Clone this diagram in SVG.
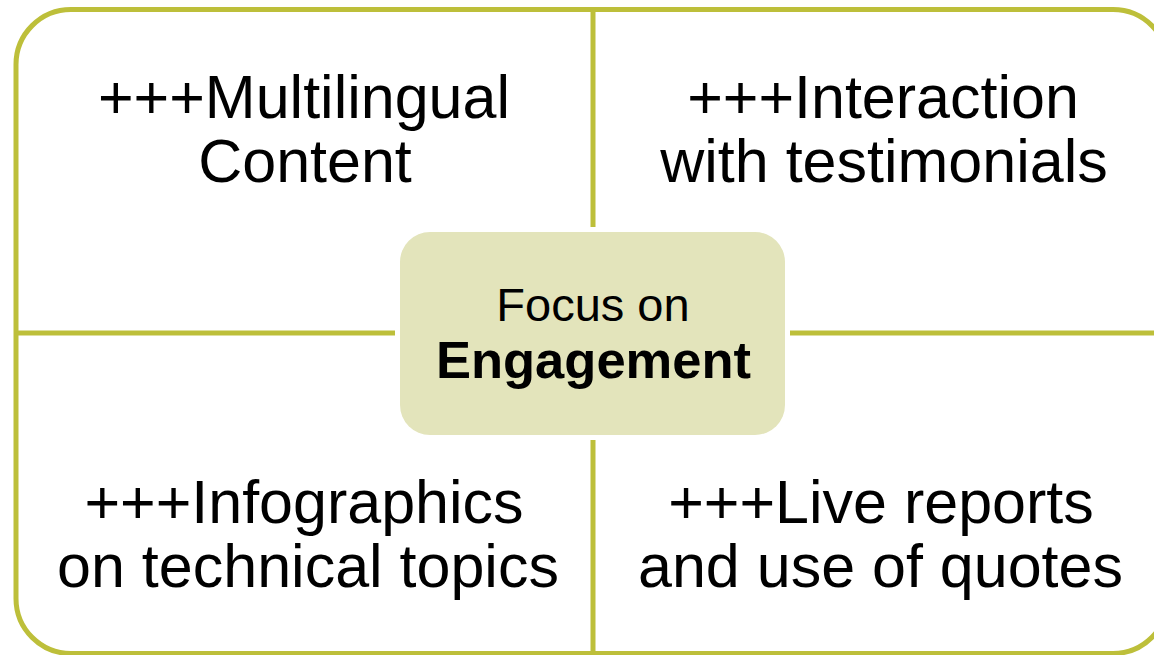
<svg xmlns="http://www.w3.org/2000/svg" width="1154" height="655" viewBox="0 0 1154 655">
  <style>
    .frame { fill: #ffffff; stroke: #BDBF3A; stroke-width: 5; }
    .divider { stroke: #BDBF3A; stroke-width: 5; fill: none; }
    .hub { fill: #E3E4BB; stroke: none; }
    .label { font-family: "Liberation Sans", Arial, sans-serif; font-size: 61px; fill: #000000; text-anchor: middle; }
    .hub-text { font-family: "Liberation Sans", Arial, sans-serif; fill: #000000; text-anchor: middle; }
  </style>
  <rect width="1154" height="655" fill="#ffffff"/>

  <!-- outer frame -->
  <rect class="frame" x="16" y="9.5" width="1152" height="644" rx="55" ry="55"/>

  <!-- quadrant dividers -->
  <g id="connectors">
    <line class="divider" x1="593" y1="9.5" x2="593" y2="227"/>
    <line class="divider" x1="593" y1="440" x2="593" y2="655"/>
    <line class="divider" x1="16" y1="333" x2="395" y2="333"/>
    <line class="divider" x1="790" y1="333" x2="1168" y2="333"/>
  </g>

  <g id="quad-multilingual">
    <text class="label" x="304" y="118">+++Multilingual</text>
    <text class="label" x="305" y="182">Content</text>
  </g>

  <g id="quad-interaction">
    <text class="label" x="883" y="118">+++Interaction</text>
    <text class="label" x="884" y="182">with testimonials</text>
  </g>

  <g id="quad-infographics">
    <text class="label" x="304" y="523">+++Infographics</text>
    <text class="label" x="308" y="587">on technical topics</text>
  </g>

  <g id="quad-live">
    <text class="label" x="881" y="523">+++Live reports</text>
    <text class="label" x="880.5" y="587">and use of quotes</text>
  </g>

  <g id="hub">
    <rect class="hub" x="400" y="232" width="385" height="203" rx="30" ry="30"/>
    <text class="hub-text" x="593" y="321" font-size="47">Focus on</text>
    <text class="hub-text" x="593.5" y="377.5" font-size="52.5" font-weight="bold">Engagement</text>
  </g>
</svg>
